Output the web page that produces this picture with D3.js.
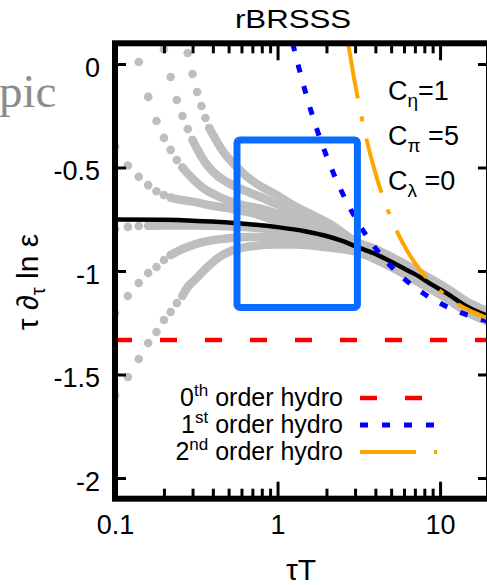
<!DOCTYPE html>
<html>
<head>
<meta charset="utf-8">
<script src="https://cdn.jsdelivr.net/npm/d3@7"></script>
<style>
  body { margin: 0; background: #fff; }
  svg { display: block; }
  text { font-family: "Liberation Sans", Arial, Helvetica, sans-serif; fill: #000; }
</style>
</head>
<body>
<div id="chart"></div>
<script>

// ---- data (x = tau T, y = tau d_tau ln eps) ----
const xMajor = [0.1, 1, 10];
const xMinor = [0.2, 0.3, 0.4, 0.5, 0.6, 0.7, 0.8, 0.9, 2, 3, 4, 5, 6, 7, 8, 9];
const xTickLabels = ['0.1', '1', '10'];
const yTicks = [0, -0.5, -1, -1.5, -2];
const yTickLabels = ['0', '-0.5', '-1', '-1.5', '-2'];

// attractor (black)
const attractor = [[0.1,-0.751],[0.2,-0.753],[0.3,-0.757],[0.5,-0.766],[0.7,-0.775],[1.0,-0.788],
    [1.5,-0.809],[2.0,-0.831],[2.5,-0.855],[3.0,-0.880],[4,-0.918],[5,-0.955],[6,-0.988],
    [7,-1.015],[9,-1.068],[11,-1.108],[14.5,-1.170],[20,-1.220]];

const zerothOrder = [[0.1,-1.3333],[20,-1.3333]];

const firstOrder = [[1.24,0.1],[1.4,-0.063],[1.6,-0.222],[1.8,-0.346],[2.0,-0.444],[2.5,-0.622],
    [3.0,-0.741],[4.0,-0.889],[5.0,-0.978],[6.0,-1.037],[8.0,-1.111],[10,-1.156],[13,-1.197],
    [16,-1.222],[20,-1.244]];

const secondOrder = [[2.72,0.1],[3.0,-0.097],[3.5,-0.352],[4.0,-0.527],[4.5,-0.652],[5.0,-0.746],
    [6.0,-0.876],[7.0,-0.961],[8.0,-1.020],[10,-1.097],[12,-1.145],[15,-1.189],[20,-1.230]];

// gray solutions with different initial conditions
const curveA = [[0.14,0.01],[0.16,-0.159],[0.18,-0.275],[0.2,-0.357],[0.22,-0.415],[0.24,-0.464],
    [0.26,-0.5],[0.28,-0.53],[0.31,-0.565],[0.35,-0.6],[0.42,-0.635],[0.5,-0.66],[0.6,-0.68],
    [0.8,-0.70],[1.0,-0.725],[1.3,-0.757],[1.6,-0.78],[2.1,-0.815],[3,-0.868],[4,-0.906],
    [5,-0.943],[6,-0.976],[8,-1.032],[11,-1.096],[15,-1.165],[20,-1.208]];
const curveB = [[0.2,0.072],[0.22,-0.063],[0.24,-0.174],[0.26,-0.251],[0.28,-0.314],[0.3,-0.367],
    [0.32,-0.41],[0.34,-0.447],[0.37,-0.49],[0.42,-0.535],[0.5,-0.575],[0.6,-0.605],[0.8,-0.645],
    [1.0,-0.68],[1.3,-0.725],[1.6,-0.755],[2.1,-0.795],[3,-0.862],[4,-0.9],[5,-0.937],
    [6,-0.97],[8,-1.026],[11,-1.09],[15,-1.159],[20,-1.202]];
const curveC = [[0.28,0.053],[0.3,-0.048],[0.32,-0.135],[0.34,-0.203],[0.36,-0.261],[0.38,-0.309],
    [0.42,-0.37],[0.47,-0.43],[0.55,-0.49],[0.65,-0.545],[0.8,-0.594],[1.0,-0.635],[1.3,-0.69],
    [1.6,-0.725],[2.1,-0.773],[3,-0.856],[4,-0.894],[5,-0.931],[6,-0.964],[8,-1.02],
    [11,-1.084],[15,-1.153],[20,-1.196]];
const curveD = [[0.1,-0.4],[0.12,-0.49],[0.14,-0.545],[0.16,-0.585],[0.18,-0.615],[0.2,-0.633],
    [0.22,-0.645],[0.25,-0.655],[0.3,-0.665],[0.4,-0.685],[0.52,-0.70],[0.7,-0.72],[1.0,-0.76],
    [1.3,-0.785],[1.6,-0.80],[2.1,-0.83],[3,-0.872],[4,-0.91],[5,-0.947],[6,-0.98],[8,-1.036],
    [11,-1.1],[15,-1.169],[20,-1.212]];
const curveE = [[0.1,-0.797],[0.12,-0.787],[0.14,-0.783],[0.16,-0.781],[0.2,-0.78],[0.3,-0.78],
    [0.5,-0.784],[0.7,-0.79],[1.0,-0.8],[1.5,-0.82],[2.0,-0.842],[3,-0.886],[4,-0.924],
    [5,-0.961],[6,-0.994],[8,-1.05],[11,-1.114],[15,-1.183],[20,-1.226]];
const curveF = [[0.1,-1.203],[0.12,-1.121],[0.14,-1.058],[0.16,-1.01],[0.18,-0.981],[0.2,-0.947],
    [0.22,-0.923],[0.25,-0.9],[0.28,-0.884],[0.34,-0.862],[0.5,-0.842],[0.7,-0.836],[1.0,-0.836],
    [1.5,-0.848],[2.0,-0.865],[3,-0.898],[4,-0.936],[5,-0.973],[6,-1.006],[8,-1.062],
    [11,-1.126],[15,-1.195],[20,-1.238]];
const curveG = [[0.1,-1.6],[0.12,-1.512],[0.14,-1.425],[0.16,-1.348],[0.18,-1.295],[0.2,-1.237],
    [0.22,-1.198],[0.24,-1.155],[0.26,-1.12],[0.28,-1.077],[0.31,-1.043],[0.355,-0.995],
    [0.43,-0.937],[0.53,-0.9],[0.7,-0.88],[1.0,-0.872],[1.3,-0.872],[2.0,-0.885],[3,-0.906],
    [4,-0.944],[5,-0.981],[6,-1.014],[8,-1.07],[11,-1.134],[15,-1.203],[20,-1.246]];

const grayCurves = [curveA, curveB, curveC, curveD, curveE, curveF, curveG];
// beyond this tau T the dots overlap into a solid trail
const dotEnd = [0.26, 0.30, 0.38, 0.22, 0.16, 0.22, 0.26];

// highlighted window (blue box)
const boxTau = [0.563, 3.1];
const boxValue = [-0.367, -1.176];

const paramNames = ['η', 'π', 'λ'];
const paramValues = ['1', '5', '0'];

const legendNums = ['0', '1', '2'];
const legendSups = ['th', 'st', 'nd'];


const W = 487, H = 585;

let margin = { top: 43.3, right: W - 489, bottom: H - 498.7, left: 115 };

var svg = d3.select('#chart').append('svg')
    .attr('width', W)
    .attr('height', H);

var x = d3.scaleLog().domain([0.1, 20]).range([margin.left, 489]);
var y = d3.scaleLinear().domain([-2.1, 0.1]).range([498.7, margin.top]);

svg.append('clipPath').attr('id', 'clip')
    .append('rect')
    .attr('x', x(0.1)).attr('y', y(0.1))
    .attr('width', x(20) - x(0.1)).attr('height', y(-2.1) - y(0.1));

// stray text from the page the figure was cut from
svg.append('text')
    .attr('x', -1).attr('y', 107)
    .style('font-family', '"Liberation Serif", "Times New Roman", serif')
    .style('font-size', '47px')
    .style('fill', '#8c8c8c')
    .text('pic');

var plot = svg.append('g').attr('clip-path', 'url(#clip)');

var line = d3.line()
    .x(d => x(d[0]))
    .y(d => y(d[1]))
    .curve(d3.curveMonotoneX);

// gray solutions: separate dots first, then merged trail
grayCurves.forEach(function(c, i) {
    var dots = c.filter(d => d[0] <= dotEnd[i]);
    var trail = c.filter(d => d[0] >= dotEnd[i]);

    plot.append('path')
        .datum(trail)
        .attr('d', line)
        .attr('fill', 'none')
        .attr('stroke', '#bebebe')
        .attr('stroke-width', 8.5)
        .attr('stroke-linecap', 'round');

    plot.selectAll(null)
        .data(dots)
        .enter().append('circle')
        .attr('cx', d => x(d[0]))
        .attr('cy', d => y(d[1]))
        .attr('r', 4.3)
        .attr('fill', '#bebebe');
});

plot.append('path').datum(attractor)
    .attr('d', line)
    .attr('fill', 'none')
    .attr('stroke', '#000')
    .attr('stroke-width', 4.5);

plot.append('path').datum(zerothOrder)
    .attr('d', line)
    .attr('fill', 'none')
    .attr('stroke', '#ff0000')
    .attr('stroke-width', 4.5)
    .attr('stroke-dasharray', '17,28');

plot.append('path').datum(firstOrder)
    .attr('d', line)
    .attr('fill', 'none')
    .attr('stroke', '#0000ff')
    .attr('stroke-width', 5)
    .attr('stroke-dasharray', '8,14');

plot.append('path').datum(secondOrder)
    .attr('d', line)
    .attr('fill', 'none')
    .attr('stroke', '#ffa500')
    .attr('stroke-width', 4)
    .attr('stroke-dasharray', '56,18,5,18');

// blue box
svg.append('rect')
    .attr('x', x(boxTau[0]))
    .attr('y', y(boxValue[0]))
    .attr('width', x(boxTau[1]) - x(boxTau[0]))
    .attr('height', y(boxValue[1]) - y(boxValue[0]))
    .attr('rx', 3)
    .attr('fill', 'none')
    .attr('stroke', '#0a6cff')
    .attr('stroke-width', 7);

// ---- axes ----
function styleAxis(g) {
    g.select('.domain').remove();
    g.selectAll('.tick line').attr('stroke', '#000').attr('stroke-width', 3);
    g.selectAll('.tick text').style('font-size', '27px').attr('fill', '#000');
}

svg.append('g')
    .attr('transform', 'translate(0,' + y(-2.1) + ')')
    .call(d3.axisBottom(x).tickValues(xMajor).tickSize(-17).tickPadding(16)
        .tickFormat((d, i) => xTickLabels[i]))
    .call(styleAxis);

svg.append('g')
    .attr('transform', 'translate(0,' + y(-2.1) + ')')
    .call(d3.axisBottom(x).tickValues(xMinor).tickSize(-10).tickFormat(''))
    .call(styleAxis);

svg.append('g')
    .attr('transform', 'translate(0,' + y(0.1) + ')')
    .call(d3.axisTop(x).tickValues(xMajor).tickSize(-17).tickFormat(''))
    .call(styleAxis);

svg.append('g')
    .attr('transform', 'translate(0,' + y(0.1) + ')')
    .call(d3.axisTop(x).tickValues(xMinor).tickSize(-10).tickFormat(''))
    .call(styleAxis);

var yLeft = svg.append('g')
    .attr('transform', 'translate(' + x(0.1) + ',0)')
    .call(d3.axisLeft(y).tickValues(yTicks).tickSize(-11).tickPadding(15)
        .tickFormat((d, i) => yTickLabels[i]))
    .call(styleAxis);
yLeft.selectAll('.tick text').attr('dy', '0.45em');

svg.append('g')
    .attr('transform', 'translate(' + x(20) + ',0)')
    .call(d3.axisRight(y).tickValues(yTicks).tickSize(-11).tickFormat(''))
    .call(styleAxis);

// frame
svg.append('rect')
    .attr('x', x(0.1)).attr('y', y(0.1))
    .attr('width', x(20) - x(0.1)).attr('height', y(-2.1) - y(0.1))
    .attr('fill', 'none')
    .attr('stroke', '#000')
    .attr('stroke-width', 6);

// ---- texts ----
svg.append('text')
    .attr('transform', 'translate(293,28) scale(1.2,1)')
    .attr('text-anchor', 'middle')
    .style('font-size', '26px')
    .text('rBRSSS');

svg.append('text')
    .attr('x', 301).attr('y', 580)
    .attr('text-anchor', 'middle')
    .style('font-size', '30px')
    .text('τT');

var yl = svg.append('text')
    .attr('transform', 'translate(38,282) rotate(-90)')
    .attr('text-anchor', 'middle')
    .style('font-size', '30px');
yl.append('tspan').text('τ ∂');
yl.append('tspan').attr('dy', 7).style('font-size', '20px').text('τ');
yl.append('tspan').attr('dy', -7).text(' ln ε');

paramNames.forEach(function(p, i) {
    var t = svg.append('text')
        .attr('x', 388).attr('y', 100 + i * 45)
        .style('font-size', '27px');
    t.append('tspan').text('C');
    t.append('tspan').attr('dy', 7).style('font-size', '19px').text(p);
    t.append('tspan').attr('dy', -7).text((i > 0 ? ' ' : '') + '=' + paramValues[i]);
});

// legend
var legendY = [406, 433, 460];
var legendStyles = [
    { color: '#ff0000', width: 4.5, dash: '17,28' },
    { color: '#0000ff', width: 5, dash: '8,14' },
    { color: '#ffa500', width: 4, dash: '56,18,5,18' }
];

legendNums.forEach(function(n, i) {
    var t = svg.append('text')
        .attr('x', 343).attr('y', legendY[i])
        .attr('text-anchor', 'end')
        .style('font-size', '25px');
    t.append('tspan').text(n);
    t.append('tspan').attr('dy', -10).style('font-size', '17px').text(legendSups[i]);
    t.append('tspan').attr('dy', 10).text(' order hydro');

    svg.append('line')
        .attr('x1', 360).attr('x2', 437)
        .attr('y1', legendY[i] - 8).attr('y2', legendY[i] - 8)
        .attr('stroke', legendStyles[i].color)
        .attr('stroke-width', legendStyles[i].width)
        .attr('stroke-dasharray', legendStyles[i].dash);
});

</script>
</body>
</html>
